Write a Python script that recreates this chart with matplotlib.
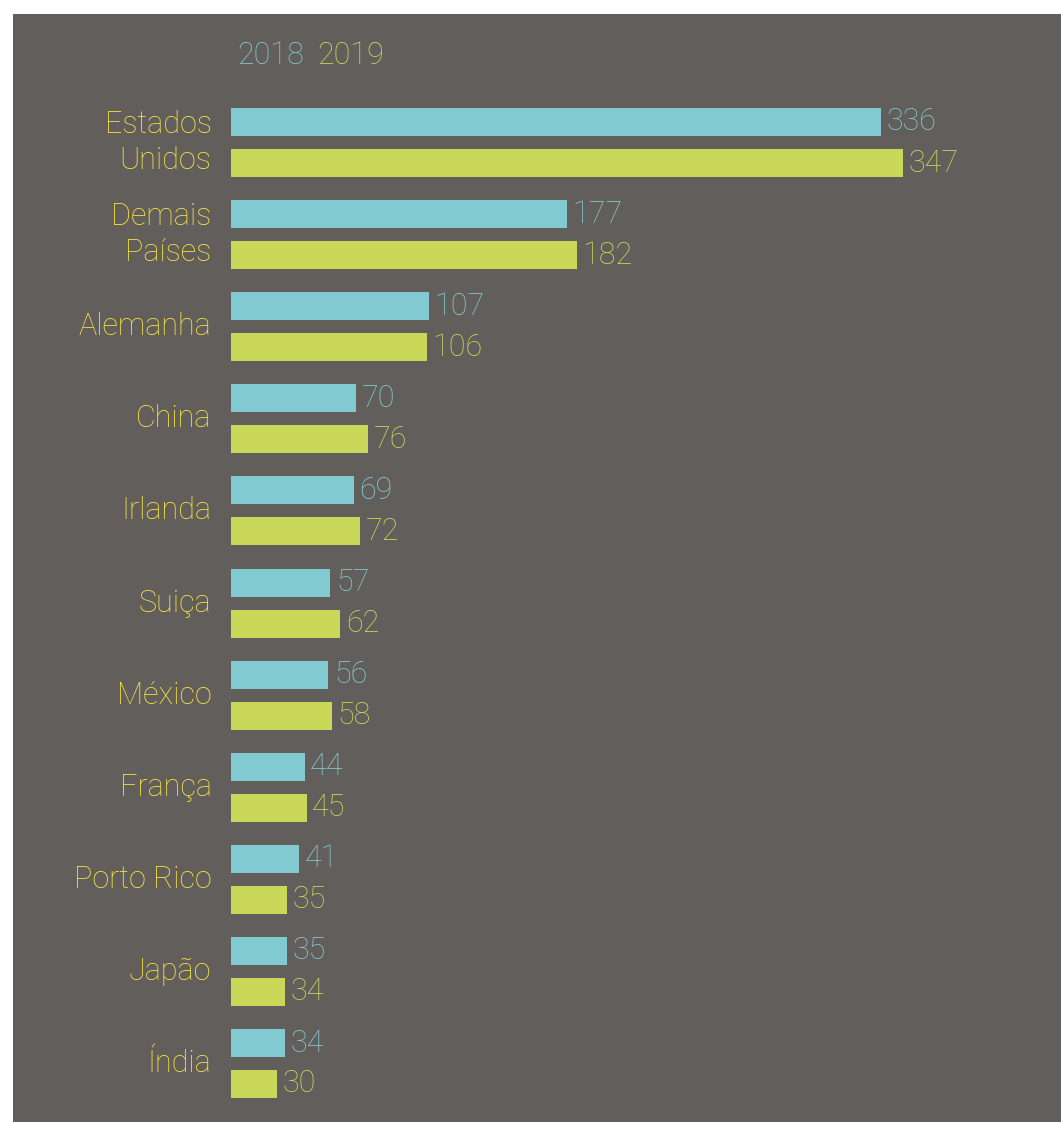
import matplotlib
matplotlib.use("Agg")
import matplotlib.pyplot as plt
from matplotlib.patches import Rectangle
import numpy as np

categories = ["Estados\nUnidos", "Demais\nPaíses", "Alemanha", "China", "Irlanda",
              "Suiça", "México", "França", "Porto Rico", "Japão", "Índia"]
values_2018 = [336, 177, 107, 70, 69, 57, 56, 44, 41, 35, 34]
values_2019 = [347, 182, 106, 76, 72, 62, 58, 45, 35, 34, 30]
series_labels = ["2018", "2019"]

BG = "#625E5B"
C2018 = "#82CAD2"
C2019 = "#CAD85A"
CLABEL = "#F9E640"
FONT = "Roboto"
WEIGHT = "light"
FS = 22

W, H = 1061, 1122
fig = plt.figure(figsize=(W / 100, H / 100), dpi=100)
fig.patch.set_facecolor("white")
fig.patches.append(Rectangle((13 / W, 0), 1 - 13 / W, 1 - 14 / H,
                             transform=fig.transFigure, facecolor=BG,
                             edgecolor="none", zorder=-5))

# value axis begins slightly above zero, so bars start at the axis edge
px_per_value = 1.974
x_start = 6.7
left = 231 / W
ax = fig.add_axes([left, 0, 1 - left, 1])
ax.set_zorder(1)
ax.set_facecolor("none")
for s in ax.spines.values():
    s.set_visible(False)
ax.set_xticks([])
ax.set_yticks([])
ax.set_xlim(x_start, x_start + (W - 231) / px_per_value)

px_per_group = 92.1
top = -142.5 / px_per_group
ax.set_ylim(top + H / px_per_group, top)

y = np.arange(len(categories))
off = 20.5 / px_per_group
h = 28 / px_per_group
ax.barh(y - off, values_2018, height=h, color=C2018, zorder=2)
ax.barh(y + off, values_2019, height=h, color=C2019, zorder=2)

txt = dict(fontsize=FS, family=FONT, fontweight=WEIGHT)
for yi, v in zip(y, values_2018):
    ax.annotate(f"{v}", (v, yi - off), xytext=(4, 0), textcoords="offset points",
                va="center", ha="left", color=C2018, **txt)
for yi, v in zip(y, values_2019):
    ax.annotate(f"{v}", (v, yi + off), xytext=(4, 0), textcoords="offset points",
                va="center", ha="left", color=C2019, **txt)

for yi, c in zip(y, categories):
    ax.annotate(c, (x_start, yi), xytext=(-14, 0), textcoords="offset points",
                va="center", ha="right", color=CLABEL, linespacing=1.3,
                annotation_clip=False, **txt)

fig.text(237 / W, 1 - 55 / H, series_labels[0], color=C2018,
         va="center", ha="left", **txt)
fig.text(317 / W, 1 - 55 / H, series_labels[1], color=C2019,
         va="center", ha="left", **txt)

fig.savefig("out.png", dpi=100, facecolor=fig.get_facecolor())
